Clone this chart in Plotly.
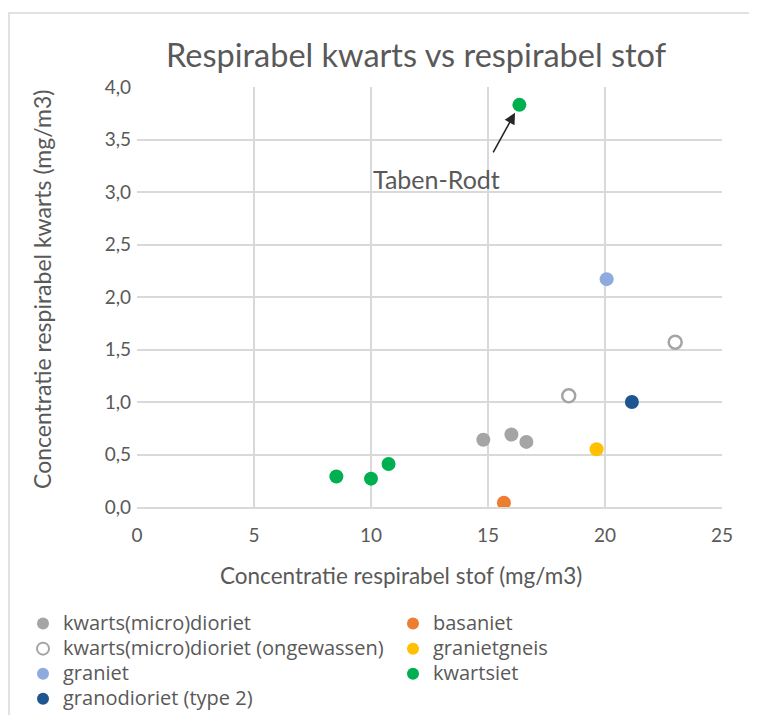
import plotly.graph_objects as go

# Data
series_names = [
    "kwarts(micro)dioriet",
    "basaniet",
    "kwarts(micro)dioriet (ongewassen)",
    "granietgneis",
    "graniet",
    "kwartsiet",
    "granodioriet (type 2)",
]
kwartsdioriet_x = [14.8, 16.0, 16.64]
kwartsdioriet_y = [0.64, 0.69, 0.62]
basaniet_x = [15.68]
basaniet_y = [0.04]
ongewassen_x = [18.45, 23.0]
ongewassen_y = [1.06, 1.57]
granietgneis_x = [19.64]
granietgneis_y = [0.55]
graniet_x = [20.07]
graniet_y = [2.17]
kwartsiet_x = [8.52, 10.0, 10.75, 16.34]
kwartsiet_y = [0.29, 0.27, 0.41, 3.83]
granodioriet_x = [21.15]
granodioriet_y = [1.0]

x_ticks = [0, 5, 10, 15, 20, 25]
y_ticks = [0, 0.5, 1.0, 1.5, 2.0, 2.5, 3.0, 3.5, 4.0]

FONT = "Lato"
LEG_FONT = "Open Sans"
TXT = "#595959"
GRID = "#D9D9D9"

# the page places the figure 8px in from the top-left corner
O = 8
W, H = 757 - O, 715 - O
L, R, T, B = 137 - O, 35, 87 - O, 208
PW, PH = W - L - R, H - T - B


def px_x(p):
    return (p - O - L) / PW


def px_y(p):
    return (H - B - (p - O)) / PH


fig = go.Figure()


def add(name, xs, ys, color, legend, hollow=False):
    if hollow:
        marker = dict(size=13, color="white", line=dict(color="#A5A5A5", width=2.5))
    else:
        marker = dict(size=14, color=color, line=dict(width=0))
    label = '<span style="font-size:20px">' + name + '</span>'
    fig.add_trace(go.Scatter(x=xs, y=ys, mode="markers", name=label, marker=marker,
                             legend=legend))


add(series_names[0], kwartsdioriet_x, kwartsdioriet_y, "#A5A5A5", "legend")
add(series_names[2], ongewassen_x, ongewassen_y, None, "legend", hollow=True)
add(series_names[4], graniet_x, graniet_y, "#8FAADC", "legend")
add(series_names[6], granodioriet_x, granodioriet_y, "#1F5591", "legend")
add(series_names[1], basaniet_x, basaniet_y, "#ED7D31", "legend2")
add(series_names[3], granietgneis_x, granietgneis_y, "#FFC000", "legend2")
add(series_names[5], kwartsiet_x, kwartsiet_y, "#00B050", "legend2")

# Arrow pointing to Taben-Rodt point
px, py = kwartsiet_x[3], kwartsiet_y[3]
fig.add_annotation(x=px, y=py, text="", showarrow=True, ax=-27, ay=49,
                   arrowhead=2, arrowsize=1.4, arrowwidth=1.6, arrowcolor="#262626",
                   standoff=9)
fig.add_annotation(x=px, y=py, text="Taben-Rodt", showarrow=False,
                   xshift=-83, yshift=-74,
                   font=dict(family=FONT, size=25, color=TXT))

# axis titles
fig.add_annotation(xref="paper", yref="paper", x=px_x(401), y=px_y(575),
                   xanchor="center", yanchor="middle", showarrow=False,
                   text="Concentratie respirabel stof (mg/m3)",
                   font=dict(family=FONT, size=22.5, color=TXT))
fig.add_annotation(xref="paper", yref="paper", x=px_x(42), y=px_y(290),
                   xanchor="center", yanchor="middle", showarrow=False, textangle=-90,
                   text="Concentratie respirabel kwarts (mg/m3)",
                   font=dict(family=FONT, size=23, color=TXT))

legend_style = dict(orientation="v", yanchor="top", xanchor="left",
                    font=dict(family=LEG_FONT, size=17, color=TXT),
                    itemsizing="constant", bgcolor="rgba(0,0,0,0)",
                    borderwidth=0, tracegroupgap=0, itemwidth=30)

fig.update_layout(
    width=W, height=H,
    margin=dict(l=L, r=R, t=T, b=B, autoexpand=False),
    paper_bgcolor="white", plot_bgcolor="white",
    separators=",.",
    font=dict(family=FONT, color=TXT, size=16),
    title=dict(text="Respirabel kwarts vs respirabel stof", x=(416 - O) / W, xanchor="center",
               y=1 - (56 - O) / H, yanchor="middle",
               font=dict(family=FONT, size=32.5, color=TXT)),
    showlegend=True,
    legend=dict(x=px_x(23), y=px_y(606), **legend_style),
    legend2=dict(x=px_x(393), y=px_y(606), **legend_style),
)

fig.update_xaxes(range=[0, 25], tickvals=x_ticks, showgrid=True, gridcolor=GRID, gridwidth=1.5,
                 zeroline=False, showline=True, linecolor=GRID, linewidth=1.5, mirror=False,
                 ticks="", ticklabelstandoff=10,
                 tickfont=dict(family=FONT, size=19, color=TXT))
fig.update_yaxes(range=[0, 4.0], tickvals=y_ticks, tickformat=".1f", showgrid=True,
                 gridcolor=GRID, gridwidth=1.5, zeroline=False, showline=False,
                 ticks="", ticklabelstandoff=5,
                 tickfont=dict(family=FONT, size=19, color=TXT))

# light outer chart border (extends beyond the right and bottom edges)
fig.add_shape(type="rect", xref="paper", yref="paper",
              x0=px_x(9), x1=px_x(790), y0=px_y(760), y1=px_y(13),
              line=dict(color="#D9D9D9", width=1.5), fillcolor="rgba(0,0,0,0)", layer="below")

fig.write_html("out.html")
